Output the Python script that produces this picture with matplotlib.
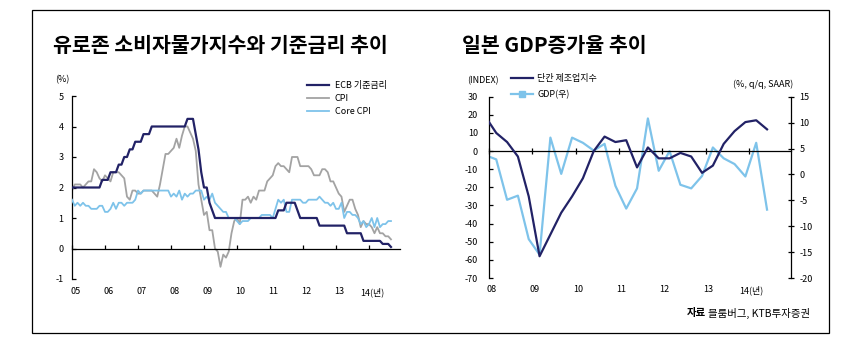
import numpy as np
import matplotlib
matplotlib.use("Agg")
import matplotlib.pyplot as plt
from matplotlib.lines import Line2D
from matplotlib.patches import Rectangle

plt.rcParams['font.family'] = ['Noto Sans CJK KR', 'DejaVu Sans']
plt.rcParams['axes.unicode_minus'] = False

NAVY = '#222266'
GRAY = '#a3a3a3'
SKY = '#7ec3ea'

# ---------------------------------------------------------------
# Left chart: euro area CPI / core CPI / ECB rate, monthly 2005.01 - 2014.09
# ---------------------------------------------------------------
ecb_rate = [
    2.0, 2.0, 2.0, 2.0, 2.0, 2.0, 2.0, 2.0, 2.0, 2.0, 2.0, 2.25,          # 05
    2.25, 2.25, 2.5, 2.5, 2.5, 2.75, 2.75, 3.0, 3.0, 3.25, 3.25, 3.5,     # 06
    3.5, 3.5, 3.75, 3.75, 3.75, 4.0, 4.0, 4.0, 4.0, 4.0, 4.0, 4.0,        # 07
    4.0, 4.0, 4.0, 4.0, 4.0, 4.0, 4.25, 4.25, 4.25, 3.75, 3.25, 2.5,      # 08
    2.0, 2.0, 1.5, 1.25, 1.0, 1.0, 1.0, 1.0, 1.0, 1.0, 1.0, 1.0,          # 09
    1.0, 1.0, 1.0, 1.0, 1.0, 1.0, 1.0, 1.0, 1.0, 1.0, 1.0, 1.0,           # 10
    1.0, 1.0, 1.0, 1.25, 1.25, 1.25, 1.5, 1.5, 1.5, 1.5, 1.25, 1.0,       # 11
    1.0, 1.0, 1.0, 1.0, 1.0, 1.0, 0.75, 0.75, 0.75, 0.75, 0.75, 0.75,     # 12
    0.75, 0.75, 0.75, 0.75, 0.5, 0.5, 0.5, 0.5, 0.5, 0.5, 0.25, 0.25,     # 13
    0.25, 0.25, 0.25, 0.25, 0.25, 0.15, 0.15, 0.15, 0.05,                 # 14
]
cpi = [
    1.9, 2.1, 2.1, 2.1, 2.0, 2.1, 2.2, 2.2, 2.6, 2.5, 2.3, 2.2,
    2.4, 2.3, 2.2, 2.5, 2.5, 2.5, 2.4, 2.3, 1.7, 1.6, 1.9, 1.9,
    1.8, 1.8, 1.9, 1.9, 1.9, 1.9, 1.8, 1.7, 2.1, 2.6, 3.1, 3.1,
    3.2, 3.3, 3.6, 3.3, 3.7, 4.0, 4.0, 3.8, 3.6, 3.2, 2.1, 1.6,
    1.1, 1.2, 0.6, 0.6, 0.0, -0.1, -0.6, -0.2, -0.3, -0.1, 0.5, 0.9,
    1.0, 0.8, 1.6, 1.6, 1.7, 1.5, 1.7, 1.6, 1.9, 1.9, 1.9, 2.2,
    2.3, 2.4, 2.7, 2.8, 2.7, 2.7, 2.6, 2.5, 3.0, 3.0, 3.0, 2.7,
    2.7, 2.7, 2.7, 2.6, 2.4, 2.4, 2.4, 2.6, 2.6, 2.5, 2.2, 2.2,
    2.0, 1.8, 1.7, 1.2, 1.4, 1.6, 1.6, 1.3, 1.1, 0.7, 0.9, 0.8,
    0.8, 0.7, 0.5, 0.7, 0.5, 0.5, 0.4, 0.4, 0.3,
]
core_cpi = [
    1.6, 1.4, 1.5, 1.4, 1.5, 1.4, 1.4, 1.3, 1.3, 1.3, 1.4, 1.4,
    1.2, 1.2, 1.3, 1.5, 1.3, 1.5, 1.5, 1.4, 1.5, 1.5, 1.5, 1.6,
    1.9, 1.8, 1.9, 1.9, 1.9, 1.9, 1.9, 1.9, 1.9, 1.9, 1.9, 1.9,
    1.7, 1.8, 1.7, 1.9, 1.6, 1.8, 1.7, 1.8, 1.8, 1.9, 1.9, 1.9,
    1.6, 1.7, 1.6, 1.8, 1.5, 1.4, 1.3, 1.2, 1.2, 1.0, 1.0, 1.0,
    0.9, 0.8, 0.9, 0.9, 0.9, 1.0, 1.0, 1.0, 1.0, 1.1, 1.1, 1.1,
    1.1, 1.0, 1.3, 1.6, 1.5, 1.6, 1.2, 1.2, 1.6, 1.6, 1.6, 1.6,
    1.5, 1.5, 1.6, 1.6, 1.6, 1.6, 1.7, 1.6, 1.5, 1.5, 1.4, 1.5,
    1.3, 1.3, 1.5, 1.0, 1.2, 1.2, 1.1, 1.1, 1.0, 0.8, 0.9, 0.7,
    0.8, 1.0, 0.7, 1.0, 0.7, 0.8, 0.8, 0.9, 0.9,
]
euro_x = 2005 + np.arange(len(cpi)) / 12.0
euro_years = [2005, 2006, 2007, 2008, 2009, 2010, 2011, 2012, 2013, 2014]
euro_labels = ['05', '06', '07', '08', '09', '10', '11', '12', '13', '14(년)']

# ---------------------------------------------------------------
# Right chart: Japan Tankan (large manufacturers) and GDP, quarterly 2007.12 - 2014.06
# ---------------------------------------------------------------
jp_x = [2007.917,
        2008.167, 2008.417, 2008.667, 2008.917,
        2009.167, 2009.417, 2009.667, 2009.917,
        2010.167, 2010.417, 2010.667, 2010.917,
        2011.167, 2011.417, 2011.667, 2011.917,
        2012.167, 2012.417, 2012.667, 2012.917,
        2013.167, 2013.417, 2013.667, 2013.917,
        2014.167, 2014.417]
tankan = [19,
          10, 5, -3, -25,
          -58, -46, -34, -25,
          -15, 0, 8, 5,
          6, -9, 2, -4,
          -4, -1, -3, -12,
          -8, 4, 11, 16,
          17, 12]
gdp = [3.7,
       2.9, -4.9, -4.1, -12.5,
       -15.5, 7.1, 0.1, 7.1,
       6.1, 4.6, 5.9, -2.2,
       -6.6, -2.7, 10.8, 0.7,
       4.5, -2.0, -2.7, -0.3,
       5.2, 3.1, 2.0, -0.4,
       6.1, -6.8]
jp_years = [2008, 2009, 2010, 2011, 2012, 2013, 2014]
jp_labels = ['08', '09', '10', '11', '12', '13', '14(년)']

W, H = 859, 342
fig = plt.figure(figsize=(W / 100, H / 100), dpi=100)


def fx(px):
    return px / W


def fy(py):
    return 1 - py / H


# outer frame
fig.patches.append(Rectangle((fx(32), fy(333)), fx(829) - fx(32), fy(10) - fy(333),
                             transform=fig.transFigure, fill=False,
                             edgecolor='black', linewidth=0.9))

# titles
fig.text(fx(53), fy(45), '유로존 소비자물가지수와 기준금리 추이', fontsize=14.8,
         fontweight='semibold', ha='left', va='center')
fig.text(fx(462), fy(45), '일본 GDP증가율 추이', fontsize=14.8,
         fontweight='semibold', ha='left', va='center')
fig.text(fx(810), fy(313), '블룸버그, KTB투자증권', fontsize=7.5, ha='right', va='center')
fig.text(fx(706), fy(313), '자료', fontsize=7.5, fontweight='bold', ha='right', va='center')

# ---------------- left chart ----------------
ax1 = fig.add_axes([fx(72), fy(279), fx(400) - fx(72), fy(96) - fy(279)])
ax1.plot(euro_x, ecb_rate, color=NAVY, linewidth=1.6, label='ECB 기준금리', zorder=4)
ax1.plot(euro_x, cpi, color=GRAY, linewidth=1.3, label='CPI', zorder=2)
ax1.plot(euro_x, core_cpi, color=SKY, linewidth=1.3, label='Core CPI', zorder=3)
ax1.set_xlim(2005, 2014.94)
ax1.set_ylim(-1, 5)
ax1.set_yticks(range(-1, 6))
ax1.set_xticks(euro_years)
ax1.spines['top'].set_visible(False)
ax1.spines['right'].set_visible(False)
ax1.spines['bottom'].set_position(('data', 0))
for s in ('left', 'bottom'):
    ax1.spines[s].set_linewidth(0.9)
ax1.tick_params(axis='y', direction='in', length=3, width=0.9, labelsize=6.5, pad=6)
ax1.tick_params(axis='x', direction='in', length=3, width=0.9, labelbottom=False)
for yr, lab in zip(euro_years, euro_labels):
    ax1.text(yr + 0.1, -0.071, lab, transform=ax1.get_xaxis_transform(),
             fontsize=6.5, ha='center', va='center')
ax1.text(-0.03, 1.09, '(%)', transform=ax1.transAxes, fontsize=6.5, ha='center', va='center')
ax1.legend(loc='upper left', bbox_to_anchor=(fx(307), fy(81)), bbox_transform=fig.transFigure,
           frameon=False, fontsize=6.5, handlelength=2.4, handletextpad=0.7,
           labelspacing=0.45, borderpad=0, borderaxespad=0)

# ---------------- right chart ----------------
ax2 = fig.add_axes([fx(489), fy(278), fx(791) - fx(489), fy(96.7) - fy(278)])
ax2.plot(jp_x, tankan, color=NAVY, linewidth=1.6, zorder=4)
ax2.set_xlim(2008, 2014.97)
ax2.set_ylim(-70, 30)
ax2.set_yticks(range(-70, 31, 10))
ax2.set_xticks(jp_years)
ax2.spines['top'].set_visible(False)
ax2.spines['right'].set_visible(False)
ax2.spines['bottom'].set_position(('data', 0))
for s in ('left', 'bottom'):
    ax2.spines[s].set_linewidth(0.9)
ax2.tick_params(axis='y', direction='in', length=3, width=0.9, labelsize=6.5, pad=8)
ax2.tick_params(axis='x', direction='inout', length=4, width=0.9, labelbottom=False)
for yr, lab in zip(jp_years, jp_labels):
    ax2.text(yr + 0.05, -0.066, lab, transform=ax2.get_xaxis_transform(),
             fontsize=6.5, ha='center', va='center')

ax3 = ax2.twinx()
ax3.plot(jp_x, gdp, color=SKY, linewidth=1.6, zorder=3)
ax3.set_ylim(-20, 15)
ax3.set_yticks(range(-20, 16, 5))
for s in ('top', 'left', 'bottom'):
    ax3.spines[s].set_visible(False)
ax3.spines['right'].set_linewidth(0.9)
ax3.tick_params(axis='y', direction='inout', length=4, width=0.9, labelsize=6.5, pad=4)
ax2.set_zorder(ax3.get_zorder() + 1)
ax2.patch.set_visible(False)

fig.text(fx(483), fy(81), '(INDEX)', fontsize=6.5, ha='center', va='center')
fig.text(fx(793), fy(84), '(%, q/q, SAAR)', fontsize=6.5, ha='right', va='center')
handles = [Line2D([], [], color=NAVY, linewidth=1.6),
           Line2D([], [], color=SKY, linewidth=1.6, marker='s', markersize=4.5)]
ax2.legend(handles, ['단칸 제조업지수', 'GDP(우)'], loc='upper left',
           bbox_to_anchor=(fx(511), fy(74)), bbox_transform=fig.transFigure,
           frameon=False, fontsize=6.5, handlelength=2.4, handletextpad=0.5,
           labelspacing=0.8, borderpad=0, borderaxespad=0)

fig.savefig('out.png', dpi=100)
